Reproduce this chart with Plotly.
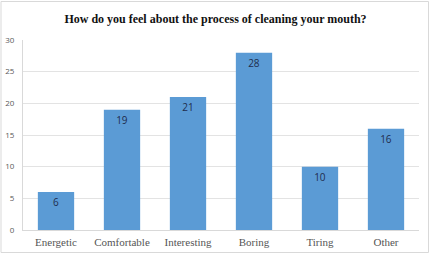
import plotly.graph_objects as go

categories = ["Energetic", "Comfortable", "Interesting", "Boring", "Tiring", "Other"]
values = [6, 19, 21, 28, 10, 16]
y_ticks = [0, 5, 10, 15, 20, 25, 30]

W, H = 431, 255
ml, mr, mt, mb = 23, 12, 40, 25

fig = go.Figure(go.Bar(
    x=categories, y=values,
    marker=dict(color="#5B9BD5", line=dict(width=0)),
    width=0.55,
    text=[str(v) for v in values],
    textposition="inside", insidetextanchor="end",
    textfont=dict(family="Open Sans, sans-serif", size=10, color="#1F2D4D"),
    textangle=0,
))

fig.update_layout(
    width=W, height=H,
    margin=dict(l=ml, r=mr, t=mt, b=mb, autoexpand=False),
    paper_bgcolor="white", plot_bgcolor="white",
    showlegend=False,
    title=dict(text="<b>How do you feel about the process of cleaning your mouth?</b>",
               x=0.5, xanchor="center", y=1 - 19 / H, yanchor="middle",
               font=dict(family="Liberation Serif, Times New Roman, serif", size=12, color="#111111")),
    xaxis=dict(showgrid=False, showline=True, linecolor="#D9D9D9", linewidth=1,
               ticks="", automargin=False, ticklabelstandoff=2,
               tickfont=dict(family="Liberation Serif, serif", size=11, color="#555555")),
    yaxis=dict(range=[0, 30], tickvals=y_ticks, showgrid=True, gridcolor="#E3E3E3",
               showline=True, linecolor="#D9D9D9", zeroline=False, ticks="",
               automargin=False, ticklabelstandoff=6,
               tickfont=dict(family="Open Sans, sans-serif", size=8, color="#595959")),
    shapes=[dict(type="rect", xref="paper", yref="paper",
                 x0=-(ml - 1) / (W - ml - mr), x1=1 + (mr - 2.5) / (W - ml - mr),
                 y0=-(mb - 2.5) / (H - mt - mb), y1=1 + (mt - 1.5) / (H - mt - mb),
                 line=dict(color="#D9D9D9", width=1))],
)

fig.write_html("out.html")
